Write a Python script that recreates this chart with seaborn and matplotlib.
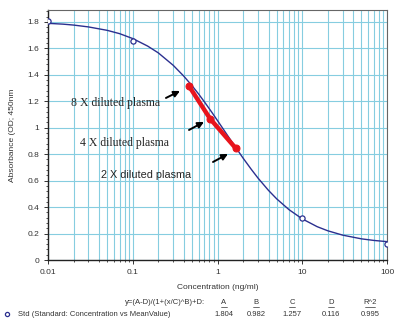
import matplotlib
matplotlib.use("Agg")
import matplotlib.pyplot as plt
import matplotlib.ticker as mticker
import seaborn as sns
import pandas as pd

# Fitted 4PL curve
curve_x = [0.01, 0.015, 0.02, 0.03, 0.05, 0.07, 0.1, 0.15, 0.2, 0.3, 0.4, 0.5, 0.6, 0.7, 0.85, 1.0, 1.2, 1.5, 2.0, 2.5, 3.0, 4.0, 5.0, 7.0, 10.0, 15.0, 20.0, 30.0, 50.0, 70.0, 100.0]
curve_y = [1.789, 1.783, 1.776, 1.762, 1.736, 1.711, 1.674, 1.617, 1.566, 1.472, 1.390, 1.318, 1.254, 1.196, 1.120, 1.054, 0.979, 0.887, 0.771, 0.686, 0.620, 0.526, 0.462, 0.380, 0.311, 0.252, 0.221, 0.188, 0.160, 0.148, 0.139]

# Standard points
std_x = [0.01, 0.1, 10, 100]
std_y = [1.808, 1.657, 0.318, 0.12]

# Diluted plasma samples
sample_x = [0.46, 0.815, 1.64]
sample_y = [1.316, 1.069, 0.845]
sample_labels = ["8 X diluted plasma", "4 X diluted plasma", "2 X diluted plasma"]

x_ticks = [0.01, 0.1, 1, 10, 100]
x_tick_labels = ["0.01", "0.1", "1", "10", "100"]
y_ticks = [0, 0.2, 0.4, 0.6, 0.8, 1.0, 1.2, 1.4, 1.6, 1.8]
y_tick_labels = ["0", "0.2", "0.4", "0.6", "0.8", "1", "1.2", "1.4", "1.6", "1.8"]

param_names = ["A", "B", "C", "D", "R^2"]
param_values = ["1.804", "0.982", "1.257", "0.116", "0.995"]

sns.set_style("white")
plt.rcParams['font.family'] = ['Liberation Sans', 'DejaVu Sans']

fig = plt.figure(figsize=(4.0, 3.22), dpi=100)
ax = fig.add_axes([0.12, 0.1925, 0.8475, 0.7765])

ax.set_xscale("log")
ax.set_xlim(0.01, 100)
ax.set_ylim(0, 1.89)

grid_c = "#86cde0"
ax.xaxis.set_major_locator(mticker.FixedLocator(x_ticks))
ax.xaxis.set_minor_locator(mticker.LogLocator(base=10, subs=range(2, 10)))
ax.xaxis.set_minor_formatter(mticker.NullFormatter())
ax.set_xticklabels(x_tick_labels)
ax.set_yticks(y_ticks)
ax.set_yticklabels(y_tick_labels)
ax.yaxis.set_minor_locator(mticker.MultipleLocator(0.04))
ax.grid(True, which="major", color=grid_c, lw=0.8)
ax.grid(True, which="minor", axis="x", color=grid_c, lw=0.8)
ax.set_axisbelow(True)

ax.tick_params(axis="both", which="major", labelsize=6, colors="#333333", length=3, width=0.7, direction="out", left=True, bottom=True)
ax.tick_params(axis="both", which="minor", length=1.5, width=0.6, left=True, bottom=True, color="#333333")
for s in ["left", "bottom"]:
    ax.spines[s].set_color("#222222")
    ax.spines[s].set_linewidth(1.0)
for s in ["top", "right"]:
    ax.spines[s].set_color("#666666")
    ax.spines[s].set_linewidth(0.8)

df_curve = pd.DataFrame({"x": curve_x, "y": curve_y})
sns.lineplot(data=df_curve, x="x", y="y", ax=ax, color="#2b2f8f", lw=1.0, sort=True)

df_std = pd.DataFrame({"x": std_x, "y": std_y})
sns.scatterplot(data=df_std, x="x", y="y", ax=ax, marker="o", s=14,
                facecolor="white", edgecolor="#2b2f8f", linewidth=0.9, zorder=5)

df_s = pd.DataFrame({"x": sample_x, "y": sample_y})
sns.lineplot(data=df_s, x="x", y="y", ax=ax, color="#e8141c", lw=3.2, zorder=6,
             marker="o", markersize=5, markeredgecolor="#e8141c", solid_capstyle="round")

ax.set_xlabel("Concentration (ng/ml)", fontsize=6, color="#333333", labelpad=6)
ax.set_ylabel("Absorbance (OD; 450nm", fontsize=6, color="#333333", labelpad=8)

# annotations
ax.text(0.0634, 1.188, sample_labels[0], fontsize=8.5, family="Liberation Serif", ha="center", va="center")
ax.text(0.0789, 0.885, sample_labels[1], fontsize=8.5, family="Liberation Serif", ha="center", va="center")
ax.text(0.1433, 0.643, sample_labels[2], fontsize=7.8, family="Liberation Sans", ha="center", va="center")

arrow_kw = dict(arrowstyle="-|>", color="black", lw=1.4, mutation_scale=9, shrinkA=0, shrinkB=0)
ax.annotate("", xy=(0.361, 1.278), xytext=(0.2465, 1.225), arrowprops=arrow_kw)
ax.annotate("", xy=(0.693, 1.044), xytext=(0.461, 0.983), arrowprops=arrow_kw)
ax.annotate("", xy=(1.33, 0.802), xytext=(0.885, 0.741), arrowprops=arrow_kw)

# bottom parameter table
fig.text(205 / 400, 1 - 303 / 322, "y=(A-D)/(1+(x/C)^B)+D:", fontsize=5.5, color="#333333", ha="right", va="center")
fig.text(18 / 400, 1 - 314 / 322, "Std (Standard: Concentration vs MeanValue)", fontsize=5.5, color="#333333", ha="left", va="center")
fig.lines.append(plt.Line2D([7 / 400], [1 - 314 / 322], transform=fig.transFigure, marker="o", markersize=3,
                            markerfacecolor="white", markeredgecolor="#2b2f8f", markeredgewidth=0.9, linestyle="none"))
col_x = [224, 256, 292, 331, 370]
for cx, name, val in zip(col_x, param_names, param_values):
    fig.text(cx / 400, 1 - 303 / 322, name, fontsize=5.5, color="#333333", ha="center", va="center")
    half = 0.012 if name == "R^2" else 0.008
    fig.lines.append(plt.Line2D([cx / 400 - half, cx / 400 + half],
                                [1 - 307 / 322] * 2, transform=fig.transFigure, color="#333333", lw=0.5))
    fig.text(cx / 400, 1 - 314 / 322, val, fontsize=5.5, color="#333333", ha="center", va="center")

fig.savefig("out.png", dpi=100)
